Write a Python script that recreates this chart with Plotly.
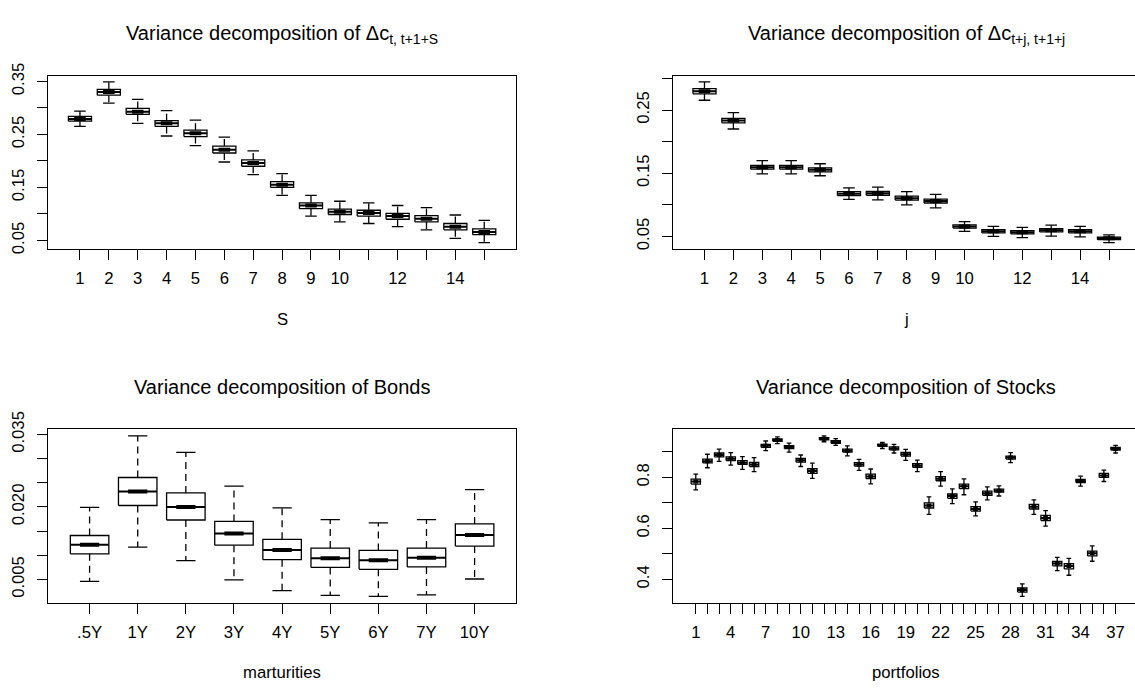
import plotly.graph_objects as go

# ---------------- data ----------------
S_labels = [str(i) for i in range(1, 16)]
S_med = [0.279, 0.330, 0.293, 0.271, 0.252, 0.221, 0.196, 0.155, 0.116, 0.104, 0.102, 0.096, 0.091, 0.076, 0.066]
S_q1 = [0.275, 0.324, 0.288, 0.265, 0.246, 0.215, 0.190, 0.150, 0.110, 0.099, 0.096, 0.090, 0.085, 0.070, 0.061]
S_q3 = [0.284, 0.335, 0.299, 0.276, 0.258, 0.228, 0.202, 0.161, 0.121, 0.109, 0.107, 0.101, 0.097, 0.082, 0.072]
S_lo = [0.265, 0.309, 0.271, 0.247, 0.229, 0.198, 0.174, 0.135, 0.096, 0.085, 0.082, 0.076, 0.070, 0.054, 0.046]
S_hi = [0.294, 0.349, 0.316, 0.295, 0.277, 0.245, 0.219, 0.176, 0.135, 0.124, 0.121, 0.116, 0.112, 0.098, 0.088]

j_labels = [str(i) for i in range(1, 16)]
j_med = [0.2796, 0.2333, 0.1595, 0.1595, 0.1554, 0.1177, 0.1182, 0.1106, 0.1060, 0.0658, 0.0581, 0.0566, 0.0597, 0.0581, 0.0470]
j_q1 = [0.2756, 0.2297, 0.1564, 0.1564, 0.1523, 0.1147, 0.1152, 0.1075, 0.1029, 0.0632, 0.0556, 0.0541, 0.0571, 0.0556, 0.0449]
j_q3 = [0.2837, 0.2369, 0.1625, 0.1625, 0.1585, 0.1208, 0.1213, 0.1137, 0.1091, 0.0683, 0.0607, 0.0592, 0.0622, 0.0607, 0.0490]
j_lo = [0.2654, 0.2200, 0.1490, 0.1490, 0.1460, 0.1086, 0.1080, 0.0999, 0.0953, 0.0581, 0.0500, 0.0480, 0.0505, 0.0495, 0.0403]
j_hi = [0.2944, 0.2460, 0.1700, 0.1700, 0.1650, 0.1270, 0.1280, 0.1208, 0.1167, 0.0734, 0.0658, 0.0643, 0.0678, 0.0658, 0.0525]

bond_labels = [".5Y", "1Y", "2Y", "3Y", "4Y", "5Y", "6Y", "7Y", "10Y"]
b_med = [0.0122, 0.0232, 0.0200, 0.0145, 0.0111, 0.0094, 0.0090, 0.0095, 0.0142]
b_q1 = [0.0103, 0.0203, 0.0173, 0.0121, 0.0091, 0.0075, 0.0071, 0.0076, 0.0119]
b_q3 = [0.0141, 0.0261, 0.0229, 0.0170, 0.0133, 0.0115, 0.0110, 0.0115, 0.0165]
b_lo = [0.0046, 0.0117, 0.0089, 0.0049, 0.0027, 0.0017, 0.0015, 0.0018, 0.0051]
b_hi = [0.0199, 0.0347, 0.0313, 0.0243, 0.0198, 0.0174, 0.0167, 0.0174, 0.0236]

stock_labels = [str(i) for i in range(1, 38)]
st_med = [0.784, 0.864, 0.888, 0.873, 0.858, 0.851, 0.924, 0.947, 0.919, 0.867, 0.825, 0.952, 0.939,
          0.905, 0.851, 0.804, 0.926, 0.914, 0.891, 0.847, 0.690, 0.795, 0.727, 0.765, 0.676, 0.738,
          0.748, 0.878, 0.358, 0.685, 0.641, 0.462, 0.452, 0.786, 0.502, 0.808, 0.912]
st_q1 = [0.774, 0.857, 0.881, 0.866, 0.851, 0.843, 0.918, 0.942, 0.913, 0.860, 0.816, 0.948, 0.934,
         0.899, 0.844, 0.795, 0.922, 0.908, 0.884, 0.840, 0.680, 0.787, 0.718, 0.756, 0.668, 0.730,
         0.742, 0.872, 0.350, 0.676, 0.631, 0.453, 0.441, 0.780, 0.492, 0.800, 0.907]
st_q3 = [0.793, 0.872, 0.896, 0.881, 0.866, 0.859, 0.930, 0.951, 0.925, 0.875, 0.834, 0.956, 0.944,
         0.911, 0.858, 0.813, 0.931, 0.920, 0.898, 0.854, 0.700, 0.803, 0.735, 0.774, 0.685, 0.746,
         0.754, 0.884, 0.366, 0.694, 0.651, 0.470, 0.462, 0.792, 0.511, 0.816, 0.918]
st_lo = [0.751, 0.838, 0.863, 0.848, 0.832, 0.823, 0.905, 0.933, 0.899, 0.843, 0.796, 0.940, 0.926,
         0.885, 0.828, 0.775, 0.913, 0.896, 0.867, 0.823, 0.655, 0.766, 0.697, 0.732, 0.649, 0.712,
         0.727, 0.858, 0.333, 0.655, 0.609, 0.434, 0.416, 0.766, 0.471, 0.784, 0.896]
st_hi = [0.813, 0.891, 0.911, 0.897, 0.882, 0.878, 0.943, 0.959, 0.935, 0.888, 0.856, 0.963, 0.952,
         0.924, 0.871, 0.833, 0.938, 0.930, 0.910, 0.868, 0.724, 0.823, 0.755, 0.794, 0.704, 0.763,
         0.767, 0.897, 0.382, 0.712, 0.670, 0.486, 0.482, 0.805, 0.531, 0.829, 0.926]

# y-axis tick values: labelled (major) and unlabelled (minor)
S_yticks = [0.05, 0.15, 0.25, 0.35]
S_yminor = [0.10, 0.20, 0.30]
j_yticks = [0.05, 0.15, 0.25]
j_yminor = [0.10, 0.20, 0.30]
b_yticks = [0.005, 0.020, 0.035]
b_yminor = [0.010, 0.015, 0.025, 0.030]
st_yticks = [0.4, 0.6, 0.8]
st_yminor = [0.5, 0.7, 0.9]

titles = ["Variance decomposition of \u0394c<sub>t, t+1+S</sub>",
          "Variance decomposition of \u0394c<sub>t+j, t+1+j</sub>",
          "Variance decomposition of Bonds",
          "Variance decomposition of Stocks"]
xtitles = ["S", "j", "marturities", "portfolios"]

# ---------------- style ----------------
W, H = 1135, 689
FONT = "Liberation Sans, Arial, sans-serif"
LW = 1.3
BOXHALF = 0.4     # boxwex 0.8
CAPHALF = 0.2     # staplewex 0.5

fig = go.Figure()


def add_boxes(labels, q1, med, q3, lo, hi, xa, ya):
    n = len(labels)
    pos = list(range(1, n + 1))
    wx, wy, cx, cy, bx, by, mx, my, tx, ty = [], [], [], [], [], [], [], [], [], []
    for p, a, m, b, l, h in zip(pos, q1, med, q3, lo, hi):
        wx += [p, p, None, p, p, None]
        wy += [b, h, None, a, l, None]
        cx += [p - CAPHALF, p + CAPHALF, None, p - CAPHALF, p + CAPHALF, None]
        cy += [h, h, None, l, l, None]
        bx += [p - BOXHALF, p + BOXHALF, p + BOXHALF, p - BOXHALF, p - BOXHALF, None]
        by += [a, a, b, b, a, None]
        mx += [p - BOXHALF, p + BOXHALF, None]
        my += [m, m, None]
        tx += [p - CAPHALF, p + CAPHALF, None]
        ty += [m, m, None]
    common = dict(mode="lines", xaxis=xa, yaxis=ya, showlegend=False, hoverinfo="skip")
    fig.add_trace(go.Scatter(x=wx, y=wy, line=dict(color="black", width=LW, dash="7px,5px"), **common))
    fig.add_trace(go.Scatter(x=cx, y=cy, line=dict(color="black", width=LW), **common))
    fig.add_trace(go.Scatter(x=bx, y=by, line=dict(color="black", width=LW), **common))
    fig.add_trace(go.Scatter(x=mx, y=my, line=dict(color="black", width=2), **common))
    fig.add_trace(go.Scatter(x=tx, y=ty, line=dict(color="black", width=4), **common))


add_boxes(S_labels, S_q1, S_med, S_q3, S_lo, S_hi, "x", "y")
add_boxes(j_labels, j_q1, j_med, j_q3, j_lo, j_hi, "x2", "y2")
add_boxes(bond_labels, b_q1, b_med, b_q3, b_lo, b_hi, "x3", "y3")
add_boxes(stock_labels, st_q1, st_med, st_q3, st_lo, st_hi, "x4", "y4")


def yr(lo, hi):
    a, b = min(lo), max(hi)
    d = (b - a) * 0.04
    return [a - d, b + d]


# pixel geometry of plot boxes
LX0, LX1 = 48.2, 516.0
RX0, RX1 = 672.7, 1135.0
TY0, TY1 = 59.5, 239.0
BY0, BY1 = 425.7, 605.0


def xd(a, b):
    return [a / W, b / W]


def yd(top, bot):
    return [1 - bot / H, 1 - top / H]


tickfont = dict(family=FONT, size=16.7, color="black")
axbase = dict(showgrid=False, zeroline=False, showline=True, linecolor="black", linewidth=LW,
              ticks="outside", ticklen=10, tickwidth=LW, tickcolor="black", tickfont=tickfont)
minorbase = dict(ticks="outside", ticklen=10, tickwidth=LW, tickcolor="black", showgrid=False,
                 tickmode="array")


def xaxis(domain, anchor, rng, labels, shown):
    vals = [i + 1 for i in range(len(labels)) if i in shown]
    txt = [labels[i] for i in range(len(labels)) if i in shown]
    mvals = [i + 1 for i in range(len(labels)) if i not in shown]
    return dict(axbase, domain=domain, anchor=anchor, range=rng, tickmode="array",
                tickvals=vals, ticktext=txt, mirror=True, ticklabelstandoff=4,
                minor=dict(minorbase, tickvals=mvals))


def yaxis(domain, anchor, rng, vals, mvals, mirror):
    return dict(axbase, domain=domain, anchor=anchor, range=rng, tickmode="array",
                tickvals=vals, ticktext=[f"{v:g}" if v >= 0.1 or len(f"{v:g}") > 4 else f"{v:.2f}" for v in vals],
                tickangle=-90, mirror=mirror, ticklabelstandoff=6,
                minor=dict(minorbase, tickvals=mvals))


fig.update_layout(
    width=W, height=H, autosize=False,
    margin=dict(l=0, r=0, t=0, b=0),
    paper_bgcolor="white", plot_bgcolor="white",
    font=dict(family=FONT, color="black"),
    xaxis=xaxis(xd(LX0, LX1), "y", [-0.1, 16.1], S_labels, {0,1,2,3,4,5,6,7,8,9,11,13}),
    yaxis=yaxis(yd(TY0, TY1), "x", yr(S_lo, S_hi), S_yticks, S_yminor, True),
    xaxis2=xaxis(xd(RX0, RX1), "y2", [-0.1, 15.9], j_labels, {0,1,2,3,4,5,6,7,8,9,11,13}),
    yaxis2=yaxis(yd(TY0, TY1), "x2", yr(j_lo, j_hi), j_yticks, j_yminor, False),
    xaxis3=xaxis(xd(LX0, LX1), "y3", [0.14, 9.86], bond_labels, set(range(9))),
    yaxis3=yaxis(yd(BY0, BY1), "x3", yr(b_lo, b_hi), b_yticks, b_yminor, True),
    xaxis4=xaxis(xd(RX0, RX1), "y4", [-0.98, 38.67], stock_labels, set(range(0, 37, 3))),
    yaxis4=yaxis(yd(BY0, BY1), "x4", yr(st_lo, st_hi), st_yticks, st_yminor, False),
)
fig.update_layout(
    yaxis=dict(ticktext=["0.05", "0.15", "0.25", "0.35"]),
    yaxis2=dict(ticktext=["0.05", "0.15", "0.25"]),
    yaxis3=dict(ticktext=["0.005", "0.020", "0.035"]),
    yaxis4=dict(ticktext=["0.4", "0.6", "0.8"]),
)

# titles and axis titles as annotations
title_pos = [(282.1, 16.7), (906.0, 16.7), (282.1, 381.5), (906.0, 381.5)]
xt_pos = [(282.1, 311.7), (906.0, 311.7), (282.1, 676.7), (906.0, 676.7)]
for t, (px, py) in zip(titles, title_pos):
    fig.add_annotation(text=t, x=px / W, y=1 - py / H, xref="paper", yref="paper",
                       xanchor="center", yanchor="middle", showarrow=False,
                       font=dict(family=FONT, size=20, color="black"))
for t, (px, py) in zip(xtitles, xt_pos):
    fig.add_annotation(text=t, x=px / W, y=1 - py / H, xref="paper", yref="paper",
                       xanchor="center", yanchor="middle", showarrow=False,
                       font=dict(family=FONT, size=16.7, color="black"))

fig.write_html("out.html")
